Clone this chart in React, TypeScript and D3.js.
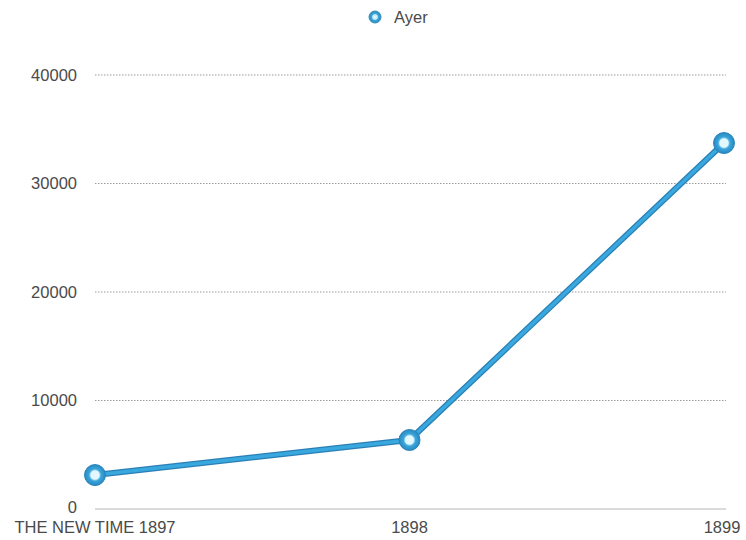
import React from "react";
import * as d3 from "d3";

const categories = ["THE NEW TIME 1897", "1898", "1899"];
const values = [3130, 6360, 33730];
const yTicks = [0, 10000, 20000, 30000, 40000];
const seriesName = "Ayer";

export default function App() {
  const W = 746, H = 540;
  const left = 95, right = 724, top = 75, bottom = 509;
  const x = d3.scalePoint<string>().domain(categories).range([left, right]);
  const y = d3.scaleLinear().domain([0, 40000]).range([bottom, top]);
  const line = d3.line<number>().x((_, i) => x(categories[i])!).y((d) => y(d));
  const font = "Helvetica, Arial, 'Liberation Sans', sans-serif";
  const fs = 16.5;
  return (
    <svg width={W} height={H} style={{ position: "absolute", left: 0, top: 0 }} fontFamily={font}>
      <defs>
        <radialGradient id="mk" cx="50%" cy="50%" r="50%">
          <stop offset="0%" stopColor="#eefaff" />
          <stop offset="40%" stopColor="#bfe9fb" />
          <stop offset="58%" stopColor="#3aa6da" />
          <stop offset="100%" stopColor="#2a88c0" />
        </radialGradient>
      </defs>
      {yTicks.map((t) => (
        <g key={t}>
          <line x1={left} x2={right + 2} y1={y(t)} y2={y(t)}
            stroke={t === 0 ? "#cfcfcf" : "#9a9a9a"} strokeWidth={t === 0 ? 1.5 : 1}
            strokeDasharray={t === 0 ? undefined : "1.5,1.5"} />
          <text x={77} y={t === 0 ? y(t) - 2 : y(t)} dy="0.35em" textAnchor="end" fontSize={fs} fill="#4a4a4a">{t}</text>
        </g>
      ))}
      {categories.map((c, i) => (
        <text key={c} x={i === 2 ? 722 : x(c)!} y={527.5} dy="0.35em" textAnchor="middle" fontSize={fs} fill="#4a4a4a">{c}</text>
      ))}
      <path d={line(values)!} fill="none" stroke="#2a7fb5" strokeWidth={6} strokeLinejoin="round" />
      <path d={line(values)!} fill="none" stroke="#38a8de" strokeWidth={3.5} strokeLinejoin="round" />
      {values.map((v, i) => (
        <g key={i}>
          <circle cx={x(categories[i])!} cy={y(v)} r={10.5} fill="url(#mk)" stroke="#2a86bd" strokeWidth={1} />
          <circle cx={x(categories[i])!} cy={y(v)} r={4.5} fill="#e3f7ff" />
        </g>
      ))}
      <g>
        <circle cx={375} cy={17} r={6} fill="url(#mk)" stroke="#3a8fb8" strokeWidth={1} />
        <text x={394} y={17} dy="0.35em" fontSize={fs} fill="#4a4a4a">{seriesName}</text>
      </g>
    </svg>
  );
}
